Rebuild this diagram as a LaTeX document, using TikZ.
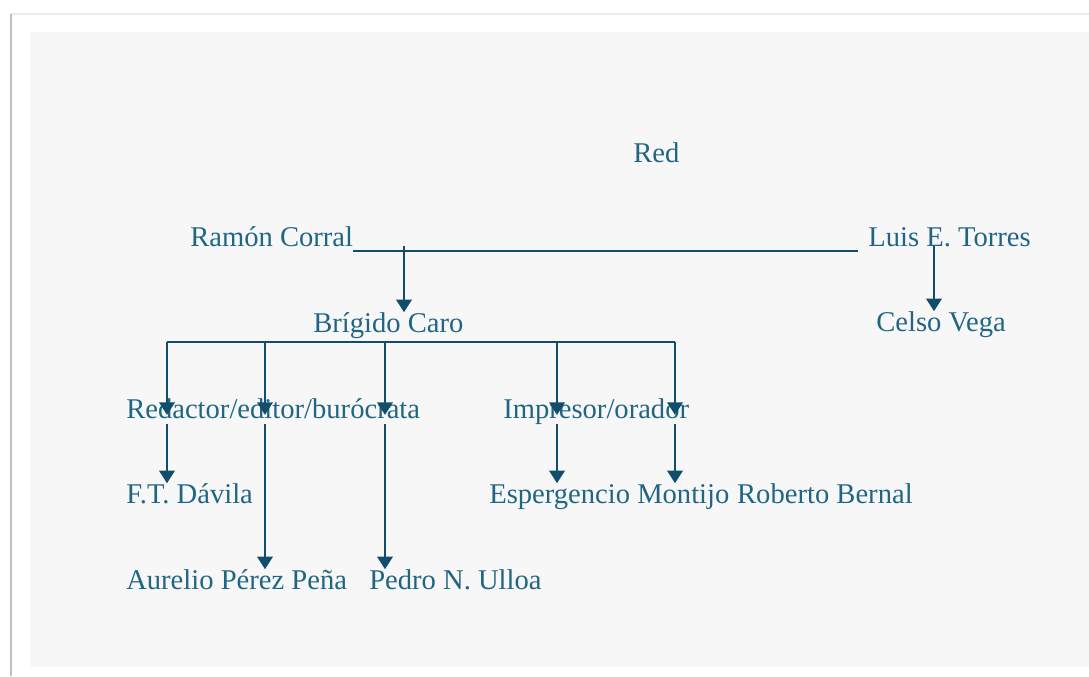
\documentclass[tikz,border=0pt]{standalone}
\usepackage{fontspec}
\setmainfont{Liberation Serif}
\usetikzlibrary{positioning,arrows.meta}
\definecolor{netText}{RGB}{32,102,132}
\definecolor{netLine}{RGB}{16,78,108}
\definecolor{panelGray}{RGB}{247,247,247}

\begin{document}
\begin{tikzpicture}
[x=0.75bp,y=-0.75bp,
  person/.style={anchor=base west,inner sep=0pt,text=netText,
    font=\fontsize{21.45bp}{26bp}\selectfont,text height=14.6bp,text depth=4.3bp},%
  barLine/.style={line width=1.5bp,color=netLine},%
  arrowLine/.style={-{Triangle[width=11.5bp,length=9.5bp]},line width=2bp,color=netLine}]
%% page and panel
\useasboundingbox (0,0) rectangle (1089,676);
\fill[white] (0,0) rectangle (1089,676);
\draw[color=black!8,line width=1.5bp] (11,14) -- (1089,14);
\draw[color=black!25,line width=1.6bp] (11,14) -- (11,676);
\fill[panelGray] (30,32) rectangle (1089,667);
%% the people
\foreach \nodename/\x/\y/\who in {red/633/162/Red, corral/190/246/Ramón Corral,
  torres/868/246/Luis E. Torres, caro/313/332/Brígido Caro, vega/876/331/Celso Vega,
  redactor/126/418/{Redactor/editor/burócrata}, impresor/503/418/{Impresor/orador},
  davila/126/503/F.T. Dávila, montijo/489/503/Espergencio Montijo,
  aurelio/126/589/Aurelio Pérez Peña, ulloa/369/589/Pedro N. Ulloa}
{
  \node[person] (\nodename) at (\x,\y) {\who};
}
\node[person,right=5.4bp of montijo] (bernal) {Roberto Bernal};
%% the links
\coordinate (corralDrop) at (404,251);
\coordinate (barEnd) at (858,251);
\coordinate (torresDrop) at (934,246);
\coordinate (caroLeft) at (167,342);
\coordinate (caroRight) at (675,342);
\draw[barLine] (corral.base east |- corralDrop) -- (barEnd);
\draw[arrowLine] (corralDrop |- corral.base) -- (corralDrop |- caro.north);
\draw[arrowLine] (torresDrop) -- (torresDrop |- vega.north);
\draw[barLine] (caroLeft) -- (caroRight);
\foreach \x/\upper/\lower in {167/redactor/davila, 265/redactor/aurelio,
  385/redactor/ulloa, 557/impresor/montijo, 675/impresor/bernal}
{
  \coordinate (drop) at (\x,342);
  \draw[arrowLine] (drop) -- (drop |- \upper.mid);
  \draw[arrowLine] (drop |- \upper.south) -- (drop |- \lower.north);
}
\end{tikzpicture}
\end{document}
